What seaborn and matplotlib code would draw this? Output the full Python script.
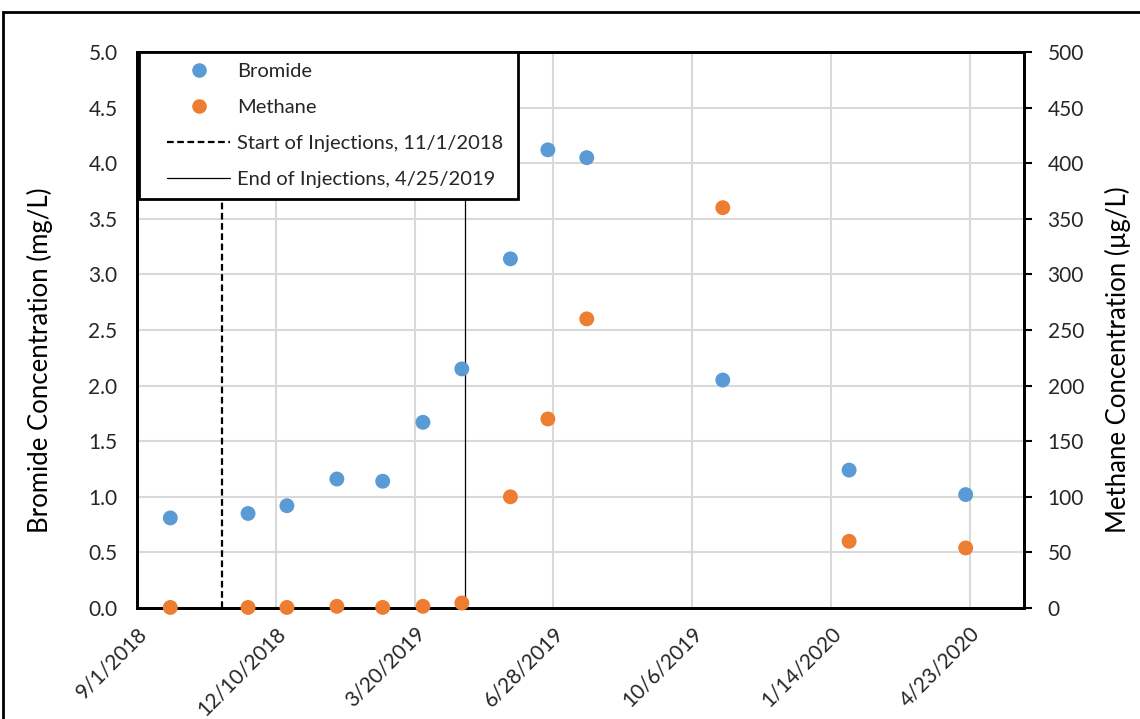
import matplotlib
matplotlib.use("Agg")
import matplotlib.pyplot as plt
from matplotlib.lines import Line2D
from matplotlib.legend_handler import HandlerLine2D
from matplotlib.patches import Rectangle
import pandas as pd
import seaborn as sns

# Sampling dates and measured concentrations
sample_dates = ["9/25/2018", "11/20/2018", "12/18/2018", "1/23/2019", "2/25/2019",
                "3/26/2019", "4/23/2019", "5/28/2019", "6/24/2019", "7/22/2019",
                "10/28/2019", "1/27/2020", "4/20/2020"]
bromide_mg_l = [0.81, 0.85, 0.92, 1.16, 1.14, 1.67, 2.15, 3.14, 4.12, 4.05, 2.05, 1.24, 1.02]
methane_ug_l = [0.5, 0.5, 0.5, 1.5, 0.5, 1.5, 4.5, 100, 170, 260, 360, 60, 54]

injection_start = "11/1/2018"
injection_end = "4/25/2019"

x_tick_labels = ["9/1/2018", "12/10/2018", "3/20/2019", "6/28/2019",
                 "10/6/2019", "1/14/2020", "4/23/2020"]
x_max = "6/1/2020"

sns.set_style("white")
plt.rcParams["font.family"] = ["Lato", "DejaVu Sans"]

TICK_FS = 15
LABEL_FS = 18.5
LEGEND_FS = 14.5
TEXT_COLOR = "#262626"

df = pd.DataFrame({
    "date": pd.to_datetime(sample_dates, format="%m/%d/%Y"),
    "bromide": bromide_mg_l,
    "methane": methane_ug_l,
})

W, H = 1140, 719
fig = plt.figure(figsize=(W / 100, H / 100), dpi=100)
ax = fig.add_axes([137 / W, 1 - 608 / H, (1024 - 137) / W, (608 - 52) / H])
ax2 = ax.twinx()

blue = "#5B9BD5"
orange = "#ED7D31"

# grid on the primary axes
ax.set_axisbelow(True)
ax.grid(True, color="#d9d9d9", linewidth=1.5)

sns.scatterplot(data=df, x="date", y="bromide", ax=ax, color=blue, s=115,
                edgecolor="none", zorder=3, legend=False)
sns.scatterplot(data=df, x="date", y="methane", ax=ax2, color=orange, s=115,
                edgecolor="none", zorder=3, legend=False, clip_on=False)

t_start = pd.to_datetime(injection_start, format="%m/%d/%Y")
t_end = pd.to_datetime(injection_end, format="%m/%d/%Y")
dash = (0, (3, 1.6))
ax.axvline(t_start, color="black", linestyle=dash, linewidth=1.6, zorder=2)
ax.axvline(t_end, color="black", linestyle="-", linewidth=0.9, zorder=2)

tick_dates = pd.to_datetime(x_tick_labels, format="%m/%d/%Y")
ax.set_xlim(tick_dates[0], pd.to_datetime(x_max, format="%m/%d/%Y"))
ax.set_xticks(tick_dates)
ax.set_xticklabels(x_tick_labels, rotation=45, ha="right", rotation_mode="anchor",
                   fontsize=TICK_FS)

ax.set_ylim(0, 5)
ax.set_yticks([i * 0.5 for i in range(11)])
ax.set_yticklabels([f"{i * 0.5:.1f}" for i in range(11)], fontsize=TICK_FS)
ax2.set_ylim(0, 500)
ax2.set_yticks(range(0, 501, 50))
ax2.set_yticklabels([str(v) for v in range(0, 501, 50)], fontsize=TICK_FS)

ax.set_xlabel("")
ax.set_ylabel("Bromide Concentration (mg/L)", fontsize=LABEL_FS, color="black")
ax2.set_ylabel("Methane Concentration (\u00b5g/L)", fontsize=LABEL_FS, color="black")
ax.yaxis.set_label_coords(-0.0947, 0.446)
ax2.yaxis.set_label_coords(1.0913, 0.446)

ax.tick_params(axis="x", direction="out", length=6, width=1.8, color="black", pad=5,
               labelcolor=TEXT_COLOR)
ax.tick_params(axis="y", length=0, pad=14, labelcolor=TEXT_COLOR)
ax2.tick_params(axis="y", direction="out", length=6, width=1.5, color="black", pad=11,
                labelcolor=TEXT_COLOR)

for a in (ax, ax2):
    for s in a.spines.values():
        s.set_color("black")
        s.set_linewidth(2)
        s.set_visible(True)
ax2.patch.set_visible(False)

handles = [
    Line2D([], [], marker="o", linestyle="none", markersize=10.5,
           markerfacecolor=blue, markeredgecolor="none"),
    Line2D([], [], marker="o", linestyle="none", markersize=10.5,
           markerfacecolor=orange, markeredgecolor="none"),
    Line2D([], [], color="black", linestyle=dash, linewidth=1.6),
    Line2D([], [], color="black", linestyle="-", linewidth=0.9),
]
labels = ["Bromide", "Methane", f"Start of Injections, {injection_start}",
          f"End of Injections, {injection_end}"]
leg = ax2.legend(
    handles, labels, loc="upper left", bbox_to_anchor=(0.002, 0.0, 0.428, 1.0),
    mode="expand", borderaxespad=0, frameon=True, fancybox=False, framealpha=1,
    edgecolor="black", handlelength=4.0, handletextpad=0.35,
    labelspacing=0.93, borderpad=0.55, fontsize=LEGEND_FS,
    handler_map={Line2D: HandlerLine2D(xpad=0.85)})
leg.get_frame().set_linewidth(2)
leg.set_zorder(10)
for t in leg.get_texts():
    t.set_color(TEXT_COLOR)

# outer chart border
fig.patches.append(Rectangle((3 / W, -0.05), 1.1, 1 - 12 / H + 0.05,
                             transform=fig.transFigure, fill=False,
                             edgecolor="black", linewidth=2))

fig.savefig("out.png", dpi=100)
